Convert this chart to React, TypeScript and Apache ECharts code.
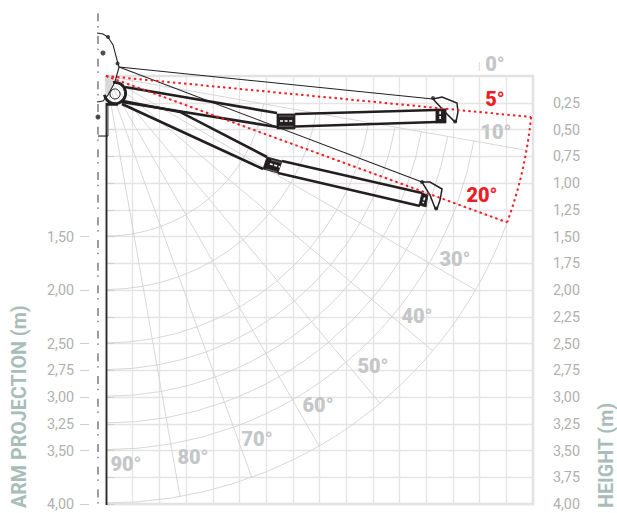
import React, { useEffect, useRef } from "react";
import * as echarts from "echarts";

type Pt = [number, number];

// Axes (metres)
const rightTicks = [0.25, 0.5, 0.75, 1, 1.25, 1.5, 1.75, 2, 2.25, 2.5, 2.75, 3, 3.25, 3.5, 3.75, 4];
const leftTicks = [1.5, 2, 2.5, 2.75, 3, 3.25, 3.5, 4];

// Polar overlay
const arcRadii = [1.5, 2, 2.5, 2.75, 3, 3.25, 3.5, 4];
const arcStartDeg = [10, 10, 10, 10, 10, 10, 10, 20];
const rayAngles = [10, 20, 30, 40, 50, 60, 70, 80];
const rayLength = 4;
const redAngles = [5.5, 20];
const redRadius = 4;

// Angle labels
const angleTexts = ["0°", "5°", "10°", "20°", "30°", "40°", "50°", "60°", "70°", "80°", "90°"];
const angleX = [3.644, 3.644, 3.653, 3.522, 3.269, 2.913, 2.501, 1.986, 1.415, 0.815, 0.187];
const angleY = [-0.112, 0.215, 0.523, 1.112, 1.71, 2.243, 2.71, 3.075, 3.393, 3.561, 3.626];
const angleRed = [false, true, false, true, false, false, false, false, false, false, false];

// Awning drawing (metres)
const dashDotLine: Pt[][] = [[[-0.075, -0.586], [-0.075, 4.01]]];
const mastLine: Pt[][] = [[[0.005, 0.252], [0.005, 4.009]]];
const postRect: Pt[][] = [[[0.005, 0.252], [0.028, 0.252], [0.028, 0.561], [0.005, 0.561]]];
const wedge: Pt[][] = [[[-0.009, 0], [0.075, 0.047], [0.009, 0.206]]];
const zeroTick: Pt[][] = [[[3.497, -0.131], [3.497, -0.047]]];
const thinLines: Pt[][] = [
  [[-0.084, -0.402], [-0.028, -0.393], [0.019, -0.364], [0.066, -0.29], [0.103, -0.15], [0.122, -0.084]],
  [[0.122, -0.084], [0.084, 0.056], [0.019, 0.178], [-0.028, 0.234], [-0.084, 0.243]],
  [[0.122, -0.084], [3.063, 0.215]],
  [[0.122, -0.084], [2.96, 0.991]],
  [[-0.075, 0.561], [0.019, 0.561]],
];
const armLines: Pt[][] = [
  [[0.178, 0.103], [1.602, 0.346]],
  [[0.15, 0.243], [1.602, 0.477]],
  [[1.77, 0.355], [3.091, 0.318]],
  [[1.77, 0.472], [3.101, 0.43]],
  [[0.159, 0.234], [0.693, 0.336], [1.508, 0.757]],
  [[0.15, 0.262], [1.471, 0.869]],
  [[1.649, 0.794], [2.96, 1.093]],
  [[1.611, 0.907], [2.941, 1.215]],
  [[0, 0.266], [0.112, 0.266]],
];
const hands: Pt[][] = [
  [[3.063, 0.215], [3.148, 0.196], [3.288, 0.252], [3.297, 0.336], [3.279, 0.43], [3.26, 0.421], [3.176, 0.336], [3.063, 0.215]],
  [[2.96, 0.991], [3.035, 0.991], [3.148, 1.056], [3.129, 1.159], [3.101, 1.243], [3.082, 1.234], [3.035, 1.112], [2.96, 0.991]],
];
const boxes: Pt[][] = [
  [[1.602, 0.355], [1.77, 0.355], [1.77, 0.495], [1.602, 0.495]],
  [[1.508, 0.757], [1.649, 0.794], [1.611, 0.907], [1.471, 0.869]],
  [[3.091, 0.308], [3.185, 0.308], [3.185, 0.439], [3.091, 0.439]],
  [[2.96, 1.093], [3.016, 1.112], [2.998, 1.224], [2.932, 1.206]],
];
const boxDots: Pt[][] = [
  [[1.63, 0.42], [1.745, 0.42]],
  [[1.535, 0.82], [1.63, 0.85]],
  [[3.13, 0.33], [3.13, 0.405]],
  [[2.985, 1.135], [2.97, 1.19]],
];
const boxHairs: Pt[][] = [
  [[1.62, 0.375], [1.755, 0.375]],
  [[1.62, 0.47], [1.755, 0.47]],
  [[1.545, 0.785], [1.64, 0.81]],
  [[1.5, 0.87], [1.6, 0.895]],
];
const jointDots: Pt[] = [[0.019, -0.364], [0.108, -0.117], [3.063, 0.206], [2.96, 0.991], [3.27, 0.425], [3.092, 1.238]];
const fixingDots: Pt[] = [[-0.028, -0.215], [-0.075, 0.383]];
const pivot: Pt = [0.084, 0.159];
const pivotOuterRadius = 0.1;
const pivotInnerRadius = 0.047;

const INK = "#231f20";
const RED = "#ee1c25";
const FONT = "Roboto, 'Noto Sans', sans-serif";

const base = { type: "custom", coordinateSystem: "cartesian2d", silent: true, xAxisIndex: 0, yAxisIndex: 0 };

function poly(lines: Pt[][], style: any, closed = false) {
  return {
    ...base,
    data: lines.map((l) => l[0]),
    encode: { x: 0, y: 1 },
    renderItem: (p: any, api: any) => ({
      type: closed ? "polygon" : "polyline",
      shape: { points: lines[p.dataIndex].map((q) => api.coord(q)) },
      style: { fill: closed ? style.fill : "none", ...style },
    }),
  };
}

const rad = (d: number) => (d * Math.PI) / 180;
const unit = (api: any) => api.coord([1, 0])[0] - api.coord([0, 0])[0];

export default function App() {
  const ref = useRef<HTMLDivElement>(null);
  useEffect(() => {
    document.body.style.margin = "0";
    document.body.style.overflow = "hidden";
    const chart = echarts.init(ref.current!, undefined, { renderer: "svg" });
    const fmt = (v: number) => v.toFixed(2).replace(".", ",");
    const yBase = {
      type: "value",
      inverse: true,
      min: 0,
      max: 4,
      interval: 0.25,
      axisLine: { show: false },
    };
    chart.setOption({
      animation: false,
      backgroundColor: "#ffffff",
      grid: { left: 106, right: 84, top: 76, bottom: 9, show: true, borderColor: "#e1e2e3", borderWidth: 2.4, backgroundColor: "transparent" },
      xAxis: {
        type: "value",
        min: 0,
        max: 4,
        interval: 0.25,
        axisLine: { show: false },
        axisTick: { show: false },
        axisLabel: { show: false },
        splitLine: { show: true, lineStyle: { color: "#e3e4e5", width: 1.3 } },
      },
      yAxis: [
        {
          ...yBase,
          position: "right",
          offset: 5,
          splitLine: { show: true, lineStyle: { color: "#e3e4e5", width: 1.3 } },
          axisTick: { show: true, length: 8, customValues: rightTicks, lineStyle: { color: "#cfcfcf", width: 1 } },
          axisLabel: { show: true, margin: 15, customValues: rightTicks, formatter: fmt, color: "#b0b0b0", fontFamily: FONT, fontSize: 14.3 },
        },
        {
          ...yBase,
          position: "left",
          offset: 17,
          splitLine: { show: false },
          axisTick: { show: true, length: 9, customValues: leftTicks, lineStyle: { color: "#cfcfcf", width: 1 } },
          axisLabel: { show: true, margin: 15, customValues: leftTicks, formatter: fmt, color: "#b0b0b0", fontFamily: FONT, fontSize: 14.3 },
        },
      ],
      graphic: [
        {
          type: "text",
          x: 19,
          y: 508,
          rotation: Math.PI / 2,
          style: { text: "ARM PROJECTION (m)", fill: "#a9bdb8", font: `700 19.7px ${FONT}`, lineHeight: 17, align: "left", verticalAlign: "middle" },
        },
        {
          type: "text",
          x: 606.5,
          y: 508,
          rotation: Math.PI / 2,
          style: { text: "HEIGHT (m)", fill: "#a9bdb8", font: `700 19.7px ${FONT}`, lineHeight: 17, align: "left", verticalAlign: "middle" },
        },
      ],
      series: [
        {
          ...base,
          data: arcRadii.map((r) => [r, 0]),
          encode: { x: 0, y: 1 },
          renderItem: (p: any, api: any) => {
            const c = api.coord([0, 0]);
            return {
              type: "arc",
              shape: { cx: c[0], cy: c[1], r: arcRadii[p.dataIndex] * unit(api), startAngle: rad(arcStartDeg[p.dataIndex]), endAngle: rad(90), clockwise: true },
              style: { fill: "none", stroke: "#d2d2d2", lineWidth: 0.9 },
            };
          },
        },
        {
          ...base,
          data: rayAngles.map((a) => [a / 90, 0]),
          encode: { x: 0, y: 1 },
          renderItem: (p: any, api: any) => {
            const a = rad(rayAngles[p.dataIndex]);
            const s = api.coord([0, 0]);
            const e = api.coord([rayLength * Math.cos(a), rayLength * Math.sin(a)]);
            return { type: "line", shape: { x1: s[0], y1: s[1], x2: e[0], y2: e[1] }, style: { stroke: "#d2d2d2", lineWidth: 0.9 } };
          },
        },
        poly(zeroTick, { stroke: "#dddddd", lineWidth: 1 }),
        poly(wedge, { fill: "#d8d8d8", stroke: "none" }, true),
        poly(postRect, { fill: "#a6a6a6", stroke: "none" }, true),
        poly(dashDotLine, { stroke: "#3a3a3a", lineWidth: 1, lineDash: [8, 4.7, 1.5, 8.47] }),
        poly(mastLine, { stroke: "#2b2b2b", lineWidth: 1.8 }),
        poly(thinLines, { stroke: INK, lineWidth: 1.1 }),
        poly(armLines, { stroke: INK, lineWidth: 2.6 }),
        poly(hands, { stroke: INK, lineWidth: 1.5 }),
        poly(boxes, { fill: INK, stroke: INK, lineWidth: 0.8 }, true),
        poly(boxDots, { stroke: "#ffffff", lineWidth: 1.6, lineDash: [3, 1.6] }),
        poly(boxHairs, { stroke: "#9a9a9a", lineWidth: 0.6 }),
        {
          ...base,
          data: [pivot, pivot],
          encode: { x: 0, y: 1 },
          renderItem: (p: any, api: any) => {
            const c = api.coord(pivot);
            if (p.dataIndex === 0) {
              return {
                type: "arc",
                shape: { cx: c[0], cy: c[1], r: pivotOuterRadius * unit(api), startAngle: rad(-100), endAngle: rad(170), clockwise: true },
                style: { fill: "none", stroke: INK, lineWidth: 2.8 },
              };
            }
            return { type: "circle", shape: { cx: c[0], cy: c[1], r: pivotInnerRadius * unit(api) }, style: { fill: "none", stroke: INK, lineWidth: 1 } };
          },
        },
        { type: "scatter", silent: true, clip: false, data: jointDots, symbolSize: 4, itemStyle: { color: INK } },
        { type: "scatter", silent: true, clip: false, data: fixingDots, symbolSize: 5, itemStyle: { color: INK } },
        {
          ...base,
          data: [[0, 0]],
          encode: { x: 0, y: 1 },
          renderItem: (_p: any, api: any) => {
            const c = api.coord([0, 0]);
            const [a0, a1] = redAngles.map(rad);
            const pa = api.coord([redRadius * Math.cos(a0), redRadius * Math.sin(a0)]);
            const pb = api.coord([redRadius * Math.cos(a1), redRadius * Math.sin(a1)]);
            const st = { fill: "none", stroke: RED, lineWidth: 2, lineDash: [2.4, 3.2] };
            return {
              type: "group",
              children: [
                { type: "line", shape: { x1: c[0], y1: c[1], x2: pa[0], y2: pa[1] }, style: st },
                { type: "line", shape: { x1: c[0], y1: c[1], x2: pb[0], y2: pb[1] }, style: st },
                { type: "arc", shape: { cx: c[0], cy: c[1], r: redRadius * unit(api), startAngle: a0, endAngle: a1, clockwise: true }, style: st },
              ],
            };
          },
        },
        {
          ...base,
          data: angleX.map((x, i) => [x, angleY[i]]),
          encode: { x: 0, y: 1 },
          renderItem: (p: any, api: any) => {
            const i = p.dataIndex;
            const c = api.coord([angleX[i], angleY[i]]);
            return {
              type: "text",
              x: c[0],
              y: c[1],
              style: { text: angleTexts[i], fill: angleRed[i] ? RED : "#c4c6c8", font: `900 20px ${FONT}`, align: "center", verticalAlign: "middle" },
            };
          },
        },
      ],
    });
    return () => chart.dispose();
  }, []);
  return <div ref={ref} style={{ width: 617, height: 513 }} />;
}
